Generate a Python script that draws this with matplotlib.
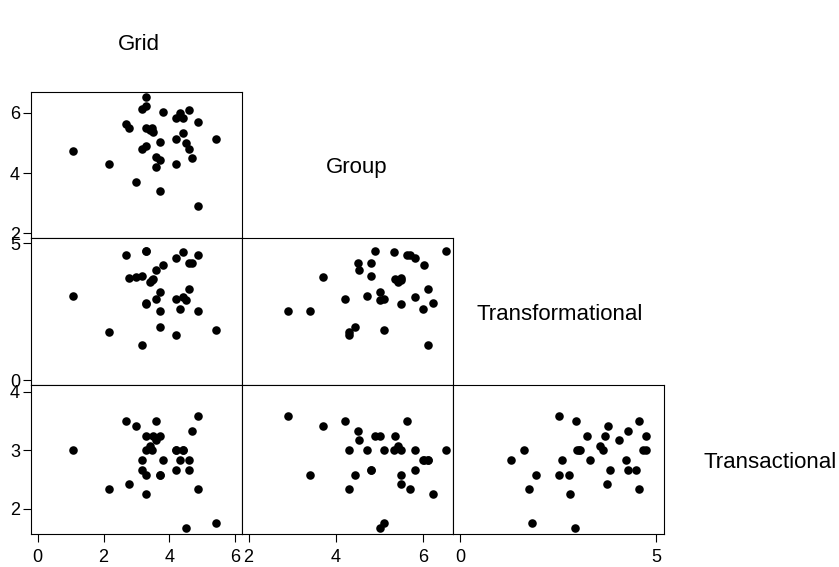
import matplotlib.pyplot as plt

plt.rcParams['font.family'] = ['Liberation Sans', 'DejaVu Sans']

# variable names shown on the diagonal
names = ["Grid", "Group", "Transformational", "Transactional"]

# one value per respondent
grid = [1.06, 2.18, 5.41, 4.51, 4.88, 3.70, 2.97, 3.28, 3.28, 3.18, 4.60,
        3.79, 4.33, 4.19, 4.41, 3.60, 3.70, 3.60, 4.68, 3.18, 4.60, 3.28,
        3.70, 4.19, 4.41, 3.51, 3.42, 2.78, 3.28, 3.48, 2.68, 4.88, 4.19]
group = [4.72, 4.31, 5.11, 5.00, 2.91, 3.40, 3.70, 6.52, 6.22, 6.11, 6.10,
         6.01, 6.00, 5.81, 5.81, 4.21, 4.43, 4.52, 4.51, 4.81, 4.81, 4.90,
         5.01, 5.11, 5.32, 5.35, 5.42, 5.50, 5.50, 5.48, 5.62, 5.70, 4.31]
transformational = [3.06, 1.75, 1.83, 2.93, 2.53, 2.53, 3.78, 4.74, 2.81,
                    1.29, 3.32, 4.23, 2.59, 4.48, 3.03, 2.96, 1.94, 4.04,
                    4.27, 3.82, 4.27, 4.74, 3.24, 2.98, 4.67, 3.70, 3.58,
                    3.74, 2.78, 3.65, 4.57, 4.57, 1.64]
transactional = [3.00, 2.33, 1.75, 1.67, 3.58, 2.58, 3.42, 3.00, 2.25, 2.83,
                 2.83, 2.83, 2.83, 2.67, 3.00, 3.50, 2.58, 3.17, 3.33, 2.67,
                 2.67, 3.25, 3.25, 3.00, 3.00, 3.25, 3.08, 2.42, 2.58, 3.00,
                 3.50, 2.33, 3.00]

data = [grid, group, transformational, transactional]
limits = [(-0.2, 6.2), (1.85, 6.68), (-0.18, 5.2), (1.565, 4.12)]
ticks = [[0, 2, 4, 6], [2, 4, 6], [0, 5], [2, 3, 4]]

W, H = 839, 567
fig = plt.figure(figsize=(W / 100, H / 100), dpi=100)

# cell edges in pixels
col_edges = [31, 242, 453, 664]
row_edges = [92, 238, 385, 534]

for r in range(1, 4):
    for c in range(r):
        x0, x1 = col_edges[c], col_edges[c + 1]
        y0, y1 = row_edges[r - 1], row_edges[r]
        ax = fig.add_axes([x0 / W, 1 - y1 / H, (x1 - x0) / W, (y1 - y0) / H])
        ax.scatter(data[c], data[r], s=38, color='black', linewidths=0)
        ax.set_xlim(limits[c])
        ax.set_ylim(limits[r])
        for sp in ax.spines.values():
            sp.set_linewidth(0.8)
        ax.tick_params(direction='out', length=5.5, width=0.8, labelsize=13)
        ax.tick_params(axis='y', pad=2.5)
        ax.tick_params(axis='x', pad=5)
        if c == 0:
            ax.set_yticks(ticks[r])
        else:
            ax.set_yticks([])
        if r == 3:
            ax.set_xticks(ticks[c])
        else:
            ax.set_xticks([])

# diagonal labels
label_pos = [(139, 45), (357, 168), (560, 314), (770, 463)]
for name, (px, py) in zip(names, label_pos):
    fig.text(px / W, 1 - py / H, name, ha='center', va='center', fontsize=16)

fig.savefig("out.png", dpi=100)
